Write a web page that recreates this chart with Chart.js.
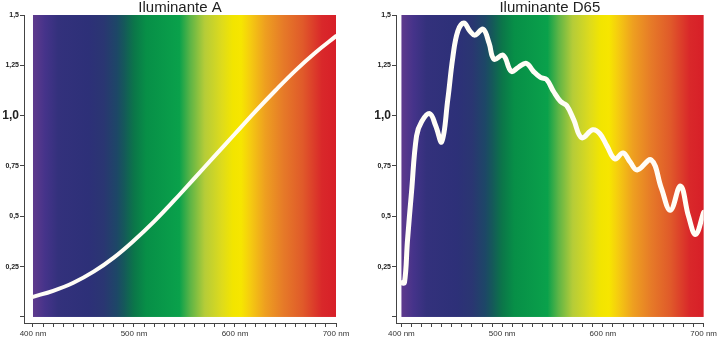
<!DOCTYPE html>
<html>
<head>
<meta charset="utf-8">
<script src="https://cdn.jsdelivr.net/npm/chart.js@4.4.1/dist/chart.umd.min.js"></script>
<style>
    body { margin: 0; background: #fff; }
    .panel { position: absolute; top: 0; height: 339px; }
    #left { left: 0; width: 360px; }
    #right { left: 360px; width: 359px; }
</style>
</head>
<body>
<div class="panel" id="left"><canvas id="chartA" width="360" height="339"></canvas></div>
<div class="panel" id="right"><canvas id="chartD65" width="359" height="339"></canvas></div>
<script>
// Datos
const wavelengthsA = [400, 420, 440, 460, 480, 500, 520, 540, 560, 580, 600, 620, 640, 660, 680, 700];
const valuesA = [0.10, 0.13, 0.17, 0.225, 0.295, 0.38, 0.475, 0.58, 0.69, 0.80, 0.91, 1.02, 1.125, 1.225, 1.315, 1.395];

const wavelengthsD65 = [400, 403, 406, 410, 415, 420, 428, 434, 440, 446, 451, 456, 462, 468, 473, 481, 487, 492,
    501, 509, 516, 524, 531, 538, 544, 551, 558, 564, 571, 579, 590, 597, 604, 612, 620, 627, 634, 648, 658,
    667, 677, 685, 692, 700];
const valuesD65 = [0.17, 0.17, 0.38, 0.62, 0.90, 0.97, 1.01, 0.95, 0.87, 1.08, 1.29, 1.42, 1.46, 1.42, 1.40, 1.43, 1.36, 1.28,
    1.30, 1.22, 1.24, 1.26, 1.22, 1.19, 1.18, 1.12, 1.07, 1.05, 0.98, 0.89, 0.93, 0.91, 0.85, 0.785, 0.815, 0.77, 0.73, 0.78, 0.64,
    0.53, 0.65, 0.50, 0.41, 0.52];

const xTickValues = [400, 410, 420, 430, 440, 450, 460, 470, 480, 490, 500, 510, 520, 530, 540, 550,
    560, 570, 580, 590, 600, 610, 620, 630, 640, 650, 660, 670, 680, 690, 700];
const yTickValues = [0, 0.25, 0.5, 0.75, 1.0, 1.25, 1.5];
const yTickLabels = ['', '0,25', '0,5', '0,75', '1,0', '1,25', '1,5'];

// Colores del espectro (longitud de onda, color)
const spectrumStops = [
    [400, '#5f3a8d'], [412, '#45338a'], [425, '#33317c'], [455, '#2d3078'], [470, '#2a3672'],
    [483, '#1d4767'], [490, '#15585a'], [500, '#0b7649'], [512, '#078f47'], [545, '#0aa14b'],
    [556, '#5eb546'], [570, '#b5cc38'], [587, '#dedb1c'], [598, '#f2e500'], [606, '#f6e600'],
    [615, '#f5cc10'], [630, '#ee9f20'], [648, '#e67a28'], [667, '#e05a2a'], [686, '#d9282a'], [700, '#d71f28']
];

// Fondo con el espectro visible
const spectrumPlugin = {
    id: 'spectrum',
    beforeDatasetsDraw(chart) {
        const ctx = chart.ctx;
        const x = chart.scales.x, y = chart.scales.y;
        const x0 = x.getPixelForValue(400), x1 = x.getPixelForValue(700);
        const y0 = y.getPixelForValue(1.5), y1 = y.getPixelForValue(0);
        const grad = ctx.createLinearGradient(x0, 0, x1, 0);
        spectrumStops.forEach(s => grad.addColorStop((s[0] - 400) / 300, s[1]));
        ctx.save();
        ctx.fillStyle = grad;
        ctx.fillRect(x0, y0, x1 - x0, y1 - y0);
        ctx.restore();
    }
};

const fontFamily = '"Liberation Sans", Arial, sans-serif';

function makeChart(canvasId, title, wl, vals, opts) {
    const ctx = document.getElementById(canvasId).getContext('2d');
    return new Chart(ctx, {
        type: 'line',
        data: {
            datasets: [{
                data: wl.map((w, i) => ({ x: w, y: vals[i] })),
                borderColor: '#fffdf6',
                borderWidth: opts.lineWidth,
                pointRadius: 0,
                tension: 0.4,
                borderCapStyle: 'round',
                borderJoinStyle: 'round',
                fill: false
            }]
        },
        options: {
            responsive: false,
            animation: false,
            layout: { padding: { left: 0, right: opts.padRight, top: 0, bottom: 0 } },
            plugins: {
                legend: { display: false },
                tooltip: { enabled: false },
                title: {
                    display: true,
                    text: title,
                    fullSize: false,
                    color: '#222',
                    font: { family: fontFamily, size: 15, weight: 'normal', lineHeight: 1 },
                    padding: { top: 0, bottom: 0 }
                }
            },
            scales: {
                x: {
                    type: 'linear',
                    min: opts.xMin,
                    max: 700,
                    afterBuildTicks: (scale) => { scale.ticks = xTickValues.map(v => ({ value: v })); },
                    afterFit: (scale) => { scale.height = 16; },
                    grid: { drawOnChartArea: false, tickLength: 4, color: '#444' },
                    border: { display: true, color: '#444', width: 1 },
                    ticks: {
                        autoSkip: false,
                        maxRotation: 0,
                        padding: 2,
                        color: '#333',
                        font: { family: fontFamily, size: 8 },
                        callback: (v) => (v % 100 === 0 ? v + ' nm' : '')
                    }
                },
                y: {
                    type: 'linear',
                    min: -0.03,
                    max: 1.5,
                    afterBuildTicks: (scale) => { scale.ticks = yTickValues.map(v => ({ value: v })); },
                    afterFit: (scale) => { scale.width = opts.yWidth; },
                    grid: { drawOnChartArea: false, tickLength: 4, color: '#444' },
                    border: { display: true, color: '#444', width: 1 },
                    ticks: {
                        padding: 1,
                        color: '#222',
                        font: (c) => (c.tick && c.tick.value === 1
                            ? { family: fontFamily, size: 12, weight: 'bold' }
                            : { family: fontFamily, size: 7, weight: 'bold' }),
                        callback: (v) => {
                            const i = yTickValues.indexOf(v);
                            return i >= 0 ? yTickLabels[i] : '';
                        }
                    }
                }
            }
        },
        plugins: [spectrumPlugin]
    });
}

makeChart('chartA', 'Iluminante A', wavelengthsA, valuesA,
    { xMin: 391.1, yWidth: 24, padRight: 24, lineWidth: 4 });
makeChart('chartD65', 'Iluminante D65', wavelengthsD65, valuesD65,
    { xMin: 394.6, yWidth: 36, padRight: 14, lineWidth: 5 });
</script>
</body>
</html>
